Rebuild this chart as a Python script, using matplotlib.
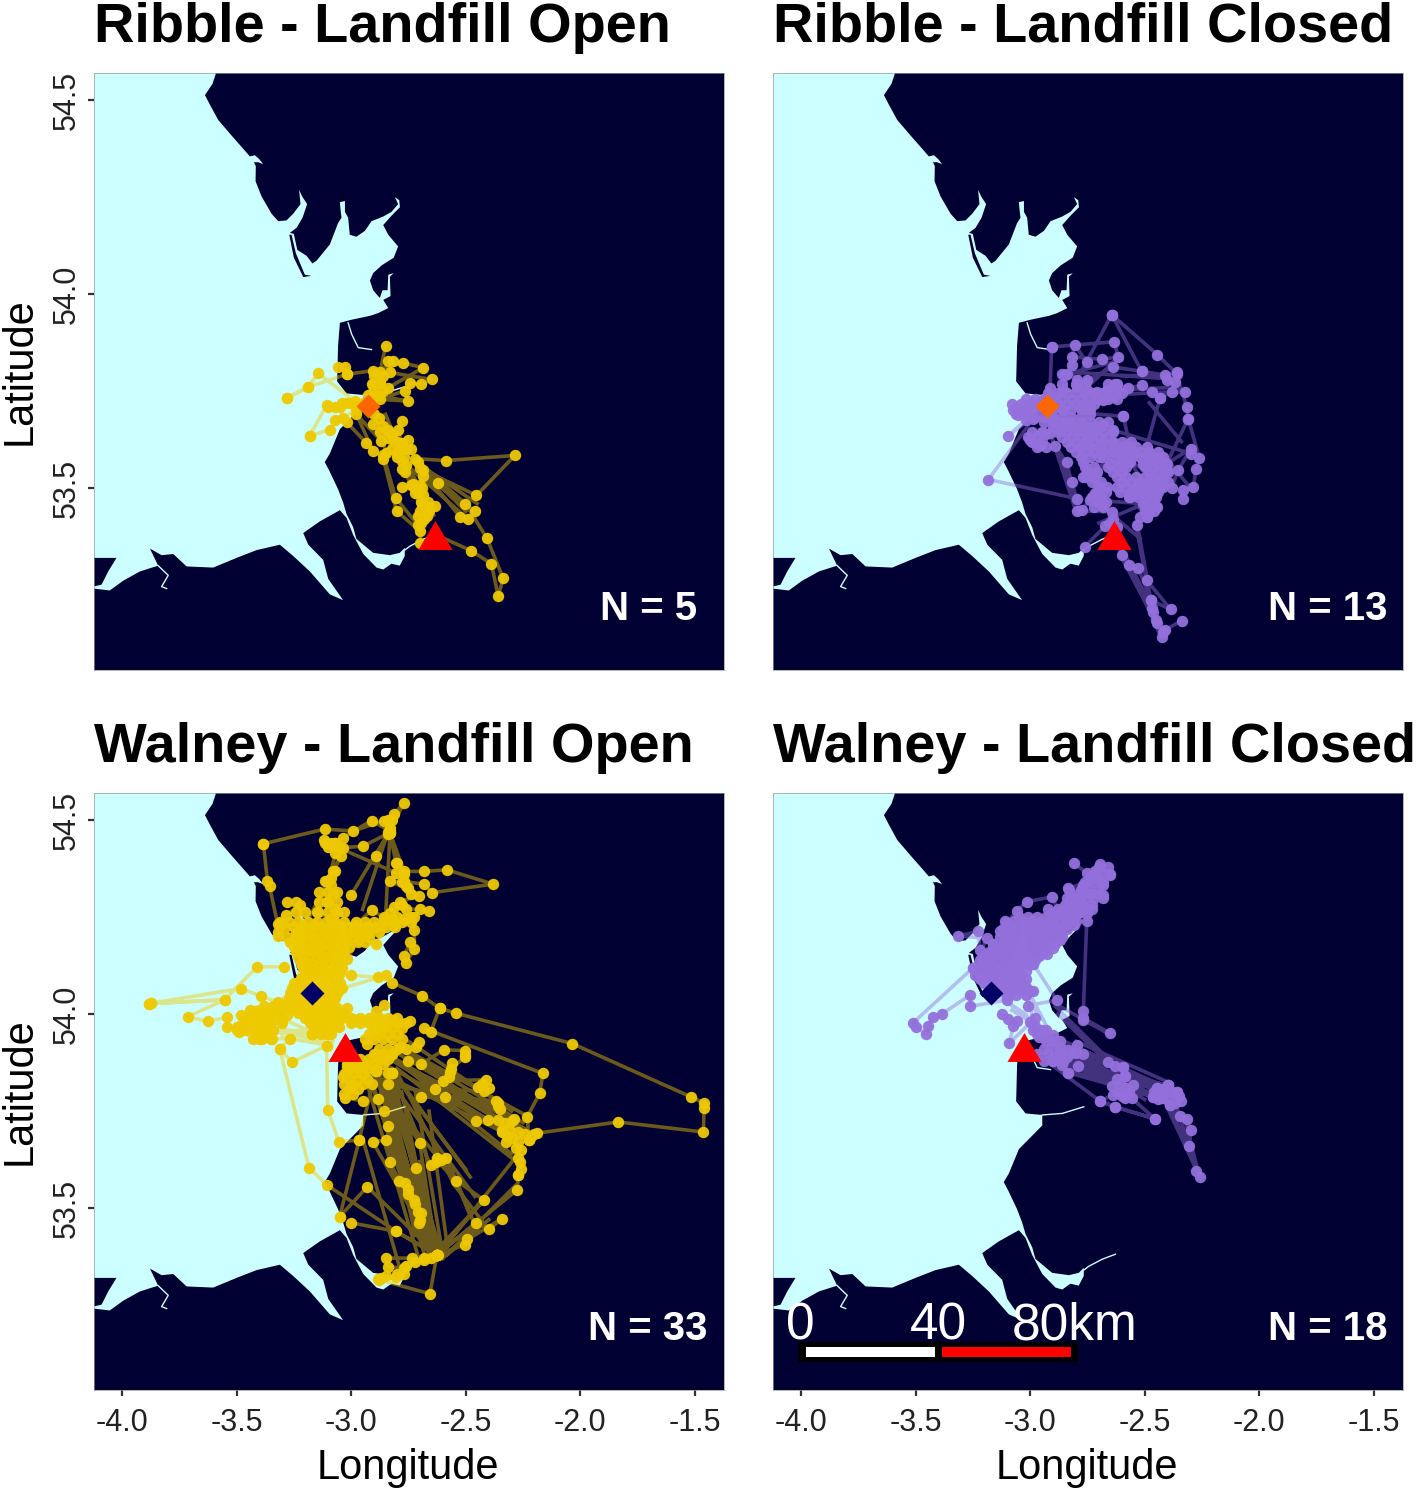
import matplotlib
matplotlib.use("Agg")
import matplotlib.pyplot as plt
from matplotlib.patches import Rectangle

plt.rcParams['font.family'] = ['Liberation Sans', 'DejaVu Sans']
plt.rcParams['axes.unicode_minus'] = False

n = float('nan')

# coastline, land is on the east side
coast_lon = [-3.585, -3.590, -3.605, -3.638, -3.616, -3.580, -3.522, -3.464, -3.442, -3.420, -3.401, -3.384, -3.406, -3.424,
             -3.416, -3.417, -3.391, -3.347, -3.318, -3.282, -3.253, -3.221, -3.227, -3.214, -3.192, -3.212, -3.238, -3.267,
             -3.250, -3.235, -3.195, -3.169, -3.151, -3.093, -3.057, -3.042, -3.046, -3.049, -3.027, -3.027, -3.013, -3.006,
             -2.977, -2.940, -2.911, -2.860, -2.824, -2.795, -2.809, -2.790, -2.787, -2.824, -2.860, -2.838, -2.795, -2.814,
             -2.867, -2.904, -2.918, -2.904, -2.875, -2.863, -2.841, -2.838, -2.814, -2.831, -2.828, -2.860, -2.838, -2.882,
             -2.918, -2.998, -3.049, -3.057, -3.061, -3.020, -2.947, -2.947, -2.977, -3.049, -3.093, -3.115, -3.093, -3.057,
             -3.035, -3.020, -2.991, -2.977, -2.904, -2.831, -2.788, -2.766, -2.766, -2.788, -2.824, -2.860, -2.889, -2.947,
             -2.991, -3.020, -3.049, -3.137, -3.209, -3.187, -3.122, -3.100, -3.035, -3.093, -3.180, -3.253, -3.311, -3.413,
             -3.500, -3.602, -3.718, -3.776, -3.827, -3.878, -3.842, -3.922, -3.995, -4.053, -4.125, -4.200, -4.200, -1.300,
             -1.300]
coast_lat = [54.600, 54.569, 54.542, 54.513, 54.488, 54.449, 54.409, 54.370, 54.355, 54.358, 54.348, 54.335, 54.340, 54.340,
             54.330, 54.291, 54.252, 54.207, 54.188, 54.190, 54.207, 54.232, 54.269, 54.252, 54.232, 54.197, 54.171, 54.158,
             54.155, 54.114, 54.099, 54.079, 54.086, 54.128, 54.183, 54.197, 54.217, 54.237, 54.240, 54.212, 54.197, 54.153,
             54.148, 54.163, 54.188, 54.200, 54.212, 54.232, 54.250, 54.242, 54.224, 54.202, 54.178, 54.153, 54.123, 54.094,
             54.074, 54.054, 54.035, 54.010, 53.990, 54.010, 54.010, 54.050, 54.054, 54.045, 53.995, 53.985, 53.964, 53.951,
             53.944, 53.934, 53.926, 53.867, 53.775, 53.744, 53.740, 53.713, 53.695, 53.652, 53.589, 53.567, 53.542, 53.497,
             53.463, 53.433, 53.399, 53.369, 53.333, 53.327, 53.333, 53.346, 53.325, 53.300, 53.305, 53.290, 53.295, 53.330,
             53.379, 53.423, 53.443, 53.414, 53.384, 53.354, 53.315, 53.266, 53.211, 53.226, 53.285, 53.325, 53.354, 53.340,
             53.320, 53.295, 53.298, 53.330, 53.327, 53.344, 53.300, 53.285, 53.261, 53.236, 53.241, 53.241, 53.000, 53.000,
             54.600]
anglesey_lon = [-4.200, -4.125, -4.024, -4.060, -4.089, -4.125, -4.200]
anglesey_lat = [53.320, 53.320, 53.320, 53.285, 53.251, 53.246, 53.246]
walney_lon = [-3.270, -3.260, -3.241, -3.202, -3.173, -3.209, -3.250]
walney_lat = [54.153, 54.153, 54.105, 54.050, 54.047, 54.044, 54.094]
river1_lon = [-3.842, -3.798, -3.827, -3.805]
river1_lat = [53.300, 53.275, 53.246, 53.241]
river2_lon = [-3.013, -2.998, -2.969, -2.911]
river2_lat = [53.926, 53.897, 53.862, 53.857]
river3_lon = [-2.947, -2.860, -2.766]
river3_lat = [53.740, 53.744, 53.761]
river4_lon = [-2.766, -2.744, -2.686, -2.628]
river4_lat = [53.340, 53.350, 53.368, 53.381]

ribble_open_lon = [-3.282, -3.187, -3.144, -2.984, n, -3.282, -3.187, -3.020, n, -3.180, -3.107, -3.071, -3.020, -2.926, n,
                   -3.180, -3.093, -3.071, -3.035, -2.977, n, -3.057, -3.027, -3.020, -2.904, -2.773, -2.686, -2.838, n,
                   -2.849, -2.875, -2.911, -2.926, n, -2.838, -2.817, -2.831, -2.649, -2.693, -2.744, -2.766, -2.875, -2.751,
                   -2.889, -2.904, -2.875, n, -3.020, -2.933, -2.904, -2.977, -2.868, -2.904, -2.875, -2.846, -2.817, -2.780,
                   -2.795, -2.780, -2.751, -2.802, -2.780, -2.766, -2.722, -2.587, -2.286, -2.453, -2.686, -2.620, -2.737,
                   -2.780, -2.700, -2.686, -2.722, -2.664, -2.693, -2.635, -2.708, -2.671, -2.693, -2.700, n, -2.860, -2.806,
                   -2.708, n, -2.860, -2.802, -2.700, n, -2.708, -2.501, -2.407, -2.337, -2.358, -2.388, -2.478, -2.628, n,
                   -2.700, -2.523, -2.489, -2.460, -2.686]
ribble_open_lat = [53.731, 53.761, 53.796, 53.724, n, 53.731, 53.761, 53.793, n, 53.635, 53.714, 53.709, 53.719, 53.711, n,
                   53.635, 53.650, 53.675, 53.680, 53.704, n, 53.813, 53.813, 53.793, 53.803, 53.823, 53.810, 53.759, n,
                   53.867, 53.798, 53.768, 53.739, n, 53.828, 53.828, 53.798, 53.780, 53.768, 53.770, 53.751, 53.729, 53.724,
                   53.739, 53.768, 53.773, n, 53.670, 53.616, 53.596, 53.690, 53.621, 53.665, 53.645, 53.591, 53.625, 53.672,
                   53.650, 53.616, 53.625, 53.591, 53.571, 53.542, 53.576, 53.571, 53.584, 53.481, 53.547, 53.514, 53.507,
                   53.502, 53.507, 53.483, 53.488, 53.463, 53.463, 53.453, 53.428, 53.428, 53.409, 53.359, n, 53.586, 53.475,
                   53.404, n, 53.576, 53.441, 53.389, n, 53.566, 53.460, 53.370, 53.268, 53.221, 53.305, 53.339, 53.379, n,
                   53.552, 53.425, 53.421, 53.441, 53.532]
ribble_open_more_lon = [-2.90, -2.88, -2.90, -2.86, -2.86, -2.88, -2.91, -2.90, -2.88, -2.86, -2.84, -2.82, -2.80, -2.82, -2.79,
                        -2.77, -2.76, -2.78, -2.73, -2.71, -2.69, -2.67, -2.70, -2.68, -2.66, -2.72, -2.69, -3.10, -3.05, -3.00,
                        -3.04, -2.95, -2.80, -2.78, -2.84, -2.76, -2.74]
ribble_open_more_lat = [53.79, 53.77, 53.75, 53.75, 53.79, 53.74, 53.72, 53.69, 53.68, 53.66, 53.65, 53.64, 53.62, 53.60, 53.60,
                        53.58, 53.56, 53.55, 53.51, 53.49, 53.46, 53.45, 53.44, 53.42, 53.44, 53.50, 53.50, 53.71, 53.71, 53.72,
                        53.72, 53.72, 53.58, 53.60, 53.63, 53.60, 53.60]
ribble_open_line_lon = [-2.87, -2.68, n, -2.85, -2.66, n, -2.84, -2.64, n, -2.72, -2.50, n, -2.74, -2.49, n, -2.70, -2.45]
ribble_open_line_lat = [53.68, 53.43, n, 53.69, 53.42, n, 53.66, 53.43, n, 53.57, 53.44, n, 53.55, 53.42, n, 53.56, 53.46]

ribble_closed_lon = [-2.986, -3.095, -3.020, n, -2.986, -3.182, -2.797, -2.819, -2.841, -2.892, -2.913, n, -2.906, -2.913, n,
                     -2.906, -2.634, -2.615, -2.685, -2.819, -2.804, -2.753, n, -2.644, -2.797, n, -2.644, -2.445, -2.361, -2.317,
                     -2.310, -2.262, -2.276, -2.288, -2.332, -2.335, n, -2.644, -2.513, -2.637, -2.753, n, -2.513, -2.412, -2.358,
                     -2.368, -2.404, -2.324, -2.383, -2.434, -2.470, -2.513, -2.623, n, -2.434, -2.492, n, -2.593, -2.739, n,
                     -2.593, -2.564, n, -2.310, -2.404, -2.298, -2.354, -2.383, n, -2.637, -2.298, n, -2.532, -2.473, -2.387,
                     -2.492, n, -2.339, -2.412, -2.426, -2.448, -2.463, -2.473, -2.528, -2.567, -2.601, -2.652, n, -2.761, -2.673,
                     -2.644, -2.797, -2.775, -2.717, n,
                     -3.073, -3.030, -2.986, -2.943, -2.899, -2.855, -2.848, -2.819, -2.797, -2.753, -2.710, -2.666, -2.623, -2.572,
                     -2.637, -2.681, -2.739, -2.783, -2.855, -3.052, -2.899, -2.826, -2.870, -3.001, -2.957, -2.943, n,
                     -2.797, -2.753, -2.710, -2.681, -2.783, -2.739, -2.681, -2.637, -2.593, -2.550, -2.506, -2.448, -2.404, -2.463,
                     -2.492, -2.434, -2.535, -2.608, -2.666, -2.739, -2.768, -2.652, -2.593, -2.681, -2.710, -2.681, -2.739, -2.506,
                     -2.477, -2.448, -2.492, -2.564, -2.528, -2.419, -2.564, -2.463]
ribble_closed_lat = [53.684, 53.635, 53.675, n, 53.679, 53.522, 53.473, 53.516, 53.566, 53.609, 53.641, n, 53.864, 53.757, n,
                     53.864, 53.877, 53.838, 53.832, 53.838, 53.868, 53.825, n, 53.947, 53.778, n, 53.947, 53.844, 53.795, 53.709,
                     53.679, 53.578, 53.550, 53.503, 53.495, 53.473, n, 53.947, 53.801, 53.812, 53.778, n, 53.801, 53.791, 53.800,
                     53.774, 53.778, 53.748, 53.748, 53.731, 53.748, 53.765, 53.752, n, 53.731, 53.606, n, 53.685, 53.692, n,
                     53.685, 53.606, n, 53.679, 53.563, 53.602, 53.546, 53.501, n, 53.649, 53.589, n, 53.406, 53.211, 53.187,
                     53.263, n, 53.158, 53.134, 53.115, 53.153, 53.181, 53.211, 53.293, 53.301, 53.327, 53.409, n, 53.349, 53.402,
                     53.439, 53.441, 53.443, 53.486, n,
                     53.701, 53.709, 53.718, 53.727, 53.735, 53.752, 53.791, 53.817, 53.761, 53.752, 53.748, 53.752, 53.769, 53.757,
                     53.735, 53.727, 53.718, 53.709, 53.701, 53.688, 53.675, 53.666, 53.649, 53.623, 53.611, 53.641, n,
                     53.649, 53.632, 53.649, 53.662, 53.606, 53.606, 53.615, 53.615, 53.606, 53.589, 53.563, 53.572, 53.546, 53.529,
                     53.503, 53.503, 53.486, 53.490, 53.503, 53.538, 53.529, 53.563, 53.559, 53.581, 53.477, 53.460, 53.469, 53.460,
                     53.443, 53.452, 53.426, 53.477, 53.507, 53.520, 53.568, 53.477]
ribble_closed_more_lon = [-2.98, -2.94, -2.90, -2.86, -2.82, -2.78, -2.90, -2.86, -2.82, -2.78, -2.74, -2.70,
                          -3.01, -2.97, -2.93, -2.86, -2.82, -2.78, -2.74, -2.70, -2.66,
                          -2.97, -2.93, -2.82, -2.78, -2.74, -2.70, -2.66, -2.62, -2.58, -2.54,
                          -2.78, -2.74, -2.70, -2.64, -2.60, -2.56, -2.52, -2.48, -2.44, -2.42,
                          -2.76, -2.72, -2.66, -2.62, -2.58, -2.50, -2.46, -2.42,
                          -2.76, -2.72, -2.62, -2.58, -2.54, -2.50, -2.46, -2.42,
                          -2.70, -2.62, -2.58, -2.54, -2.50, -2.46, -2.42,
                          -2.73, -2.69, -2.57, -2.53, -2.49, -2.45, -2.72, -2.68, -2.49, -2.45, -2.49, -2.52,
                          -3.08, -3.04, -3.00, -2.96, -2.92, -2.88, -2.84, -2.80, -2.76, -2.72,
                          -2.92, -2.88, -2.84, -2.80, -2.76, -2.72, -2.68, -2.64, -2.60,
                          -2.86, -2.80, -2.76, -2.66, -2.63, -2.86, -2.84, -3.06, -3.03, -2.64, -2.62, -2.47, -2.45, -2.42,
                          -3.02, -2.98, -2.94, -2.90, -2.86, -2.82, -2.78, -2.74, -2.70, -2.66, -2.62,
                          -3.06, -3.02, -2.98, -2.94, -2.90, -2.86, -2.82, -2.78, -2.74,
                          -2.94, -2.90, -2.86, -2.82, -2.78, -2.74, -2.70, -2.66,
                          -2.99, -2.95, -2.88, -2.84, -2.80, -2.76, -2.72, -2.68, -2.64,
                          -2.99, -2.95, -2.84, -2.80, -2.76, -2.72, -2.68, -2.64, -2.60, -2.56,
                          -2.80, -2.76, -2.72, -2.68, -2.64, -2.60, -2.56, -2.52, -2.48, -2.44,
                          -2.77, -2.61, -2.57, -2.49, -2.45, -2.41,
                          -2.75, -2.71, -2.64, -2.60, -2.48, -2.44, -2.40,
                          -2.73, -2.69, -2.60, -2.56, -2.52, -2.48, -2.44, -2.40,
                          -2.71, -2.67, -2.56, -2.52, -2.48, -2.44, -2.71, -2.67, -2.50, -2.46, -2.50, -2.46]
ribble_closed_more_lat = [53.684, 53.684, 53.684, 53.684, 53.684, 53.684, 53.658, 53.658, 53.658, 53.658, 53.658, 53.658,
                          53.632, 53.632, 53.640, 53.632, 53.632, 53.632, 53.632, 53.632, 53.632,
                          53.606, 53.606, 53.606, 53.606, 53.606, 53.606, 53.606, 53.606, 53.606, 53.606,
                          53.580, 53.580, 53.580, 53.580, 53.580, 53.580, 53.580, 53.580, 53.580, 53.580,
                          53.555, 53.555, 53.555, 53.555, 53.555, 53.555, 53.555, 53.555,
                          53.529, 53.529, 53.529, 53.529, 53.529, 53.529, 53.529, 53.529,
                          53.503, 53.503, 53.503, 53.503, 53.503, 53.503, 53.503,
                          53.477, 53.477, 53.477, 53.477, 53.477, 53.477, 53.452, 53.452, 53.452, 53.452, 53.426, 53.426,
                          53.718, 53.718, 53.718, 53.718, 53.718, 53.718, 53.718, 53.718, 53.718, 53.718,
                          53.744, 53.744, 53.744, 53.744, 53.744, 53.744, 53.744, 53.744, 53.744,
                          53.769, 53.769, 53.769, 53.769, 53.769, 53.795, 53.795, 53.692, 53.692, 53.420, 53.400, 53.19, 53.16, 53.13,
                          53.730, 53.730, 53.730, 53.730, 53.730, 53.730, 53.730, 53.730, 53.730, 53.730, 53.730,
                          53.705, 53.705, 53.705, 53.705, 53.705, 53.705, 53.705, 53.705, 53.705,
                          53.671, 53.671, 53.671, 53.671, 53.671, 53.671, 53.671, 53.671,
                          53.645, 53.645, 53.645, 53.645, 53.645, 53.645, 53.645, 53.645, 53.645,
                          53.620, 53.620, 53.620, 53.620, 53.620, 53.620, 53.620, 53.620, 53.620, 53.620,
                          53.593, 53.593, 53.593, 53.593, 53.593, 53.593, 53.593, 53.593, 53.593, 53.593,
                          53.568, 53.568, 53.568, 53.568, 53.568, 53.568,
                          53.542, 53.542, 53.542, 53.542, 53.542, 53.542, 53.542,
                          53.516, 53.516, 53.516, 53.516, 53.516, 53.516, 53.516, 53.516,
                          53.490, 53.490, 53.490, 53.490, 53.490, 53.490, 53.465, 53.465, 53.465, 53.465, 53.440, 53.440]
ribble_closed_line_lon = [-2.84, -2.36, n, -2.80, -2.60, n, -2.75, -2.61, n, -2.73, -2.36, n, -2.60, -2.41, n, -2.65, -2.32, n,
                          -2.60, -2.43, n, -2.59, -2.44, n, -2.62, -2.46, n, -2.54, -2.48, n, -2.90, -2.80, n, -2.88, -2.78, n,
                          -2.66, -2.52, n, -2.70, -2.50, n, -2.44, -2.30, n, -2.48, -2.34]
ribble_closed_line_lat = [53.80, 53.78, n, 53.80, 53.83, n, 53.76, 53.84, n, 53.75, 53.76, n, 53.79, 53.79, n, 53.74, 53.75, n,
                          53.32, 53.13, n, 53.33, 53.13, n, 53.37, 53.18, n, 53.41, 53.22, n, 53.62, 53.44, n, 53.60, 53.44, n,
                          53.44, 53.37, n, 53.41, 53.46, n, 53.60, 53.50, n, 53.72, 53.62]

walney_open_lon = [-3.383, -3.116, -2.991, -2.858, -2.813, -2.769, -2.831, -2.911, -3.036, -3.071, -3.116, -3.071, -3.045, -3.107, n,
                   -3.383, -3.365, -3.356, -3.321, n, -3.036, -2.947, -2.831, -2.893, -2.840, -3.000, n,
                   -3.054, -2.804, -2.804, -2.831, -2.769, -2.680, -2.582, -2.380, -2.648, -2.683, -2.769, -2.831, -2.751, -2.706,
                   -2.786, -2.813, -2.662, -2.701, -2.724, -2.724, -2.724, -2.760, -2.769, -2.742, n,
                   -2.858, -2.911, -2.982, -2.929, -2.893, -2.822, -2.769, -2.965, -3.018, n,
                   -3.071, -3.089, -3.116, -3.107, -3.071, -3.054, -3.089, -3.143, -3.160, -3.089, -3.143, -3.196, -3.232, -3.223,
                   -3.285, -3.312, -3.321, -3.267, -3.036, -3.071, -3.125, -3.196, -3.054, -3.089, -3.232, -3.214, -3.143, -3.071,
                   -3.036, -3.125, -3.178, -3.107, -3.071, -3.143, -3.169, -3.250, -3.267, -3.214, -3.107, -3.071, -3.214, -3.054,
                   -3.107, -3.054, -3.107, -3.160, -3.196, n,
                   -3.873, -3.882, -3.552, -3.410, -3.294, n, -3.873, -3.481, -3.392, -3.317, -3.267, n, -3.882, -3.552, -3.713, -3.624,
                   -3.543, -3.543, -3.490, -3.401, -3.419, -3.374, -3.428, -3.321, -3.303, -3.347, -3.267, -3.312, -3.258, -3.107, n,
                   -3.463, -3.499, -3.374, -3.169, n, -3.000, -2.884, -2.849, -3.071, n,
                   -3.312, -3.184, -3.107, -2.804, -2.626, n, -3.107, -3.102, -3.054, -2.965, -3.050, n,
                   -2.822, -2.690, -2.614, -2.541, -2.035, -1.515, -1.460, -1.460, -1.463, -1.834, -2.190, -2.225, -2.270, -2.291,
                   -2.359, -2.404, -2.457, n, -2.614, -2.653, -2.680, -2.163, -2.177, -2.231, -2.225, n,
                   -2.858, -2.893, -2.813, -2.858, -2.965, -3.036, -2.742, -2.929, -2.893, -2.786, -2.822, -2.858, -2.706, -2.715,
                   -2.751, -2.697, -2.594, -2.505, -2.505, -2.564, -2.573, -2.600, -2.412, -2.448, -2.421, -2.635, -2.697, -2.591,
                   -2.368, -2.359, -2.840, -2.822, -2.884, -2.947, -3.027, -3.000, -3.036, -3.018, -2.965, -2.893, n,
                   -2.893, -2.626, -2.858, -2.840, -2.626, -2.906, -2.849, -2.626, -2.701, -2.893, -2.965, n,
                   -2.822, -2.831, -2.626, -2.719, -2.822, -2.653, -2.626, -2.585, -2.541, -2.421, -2.626, -2.893, -2.341, -2.323,
                   -2.279, -2.261, -2.270, -2.275, -2.626, -2.929, -3.050, n, -2.840, -2.765, -2.754, -2.724, -2.697, -2.706, -2.626,
                   -2.457, -2.398, -2.341, -2.493, -2.502, -2.626, -2.804, -3.000, n, -2.626, -2.680, -2.733, -2.849, -2.840, -2.769,
                   -2.804, -2.884, -2.656, -2.626]
walney_open_lat = [54.439, 54.477, 54.472, 54.499, 54.516, 54.545, 54.472, 54.499, 54.455, 54.442, 54.442, 54.416, 54.407, 54.342, n,
                   54.439, 54.342, 54.329, 54.233, n, 54.429, 54.433, 54.468, 54.407, 54.464, 54.307, n,
                   54.429, 54.364, 54.390, 54.468, 54.368, 54.368, 54.372, 54.335, 54.313, 54.335, 54.342, 54.342, 54.324, 54.305,
                   54.290, 54.276, 54.266, 54.270, 54.250, 54.216, 54.168, 54.133, 54.150, 54.185, n,
                   54.250, 54.268, 54.229, 54.211, 54.181, 54.246, 54.246, 54.194, 54.141, n,
                   54.368, 54.333, 54.342, 54.290, 54.272, 54.229, 54.246, 54.263, 54.229, 54.211, 54.194, 54.168, 54.194, 54.281,
                   54.255, 54.229, 54.202, 54.185, 54.202, 54.159, 54.141, 54.133, 54.115, 54.081, 54.081, 54.150, 54.168, 54.194,
                   54.159, 54.107, 54.020, 54.037, 54.011, 53.976, 53.950, 54.046, 54.020, 54.002, 53.985, 54.054, 54.124, 54.063,
                   53.950, 53.967, 54.072, 54.100, 54.060, n,
                   54.028, 54.027, 54.037, 54.122, 54.122, n, 54.028, 54.066, 54.046, 54.030, 54.054, n, 54.027, 54.037, 53.993, 53.981,
                   53.992, 53.967, 53.954, 53.937, 54.007, 54.002, 53.976, 53.998, 53.976, 53.937, 53.937, 53.911, 53.876, 53.919, n,
                   53.976, 53.967, 53.967, 53.950, n, 54.100, 54.095, 54.100, 54.060, n,
                   53.911, 53.604, 53.560, 53.440, 53.379, n, 53.919, 53.754, 53.671, 53.675, 53.478, n,
                   54.081, 54.047, 54.015, 54.002, 53.924, 53.786, 53.771, 53.758, 53.696, 53.722, 53.693, 53.676, 53.697, 53.730,
                   53.728, 53.728, 53.725, n, 54.015, 53.954, 53.963, 53.847, 53.796, 53.736, 53.676, n,
                   54.024, 54.007, 53.985, 53.967, 53.985, 53.998, 53.983, 53.924, 53.950, 53.915, 53.898, 53.889, 53.928, 53.915,
                   53.880, 53.871, 53.908, 53.906, 53.889, 53.858, 53.837, 53.828, 53.831, 53.811, 53.802, 53.806, 53.786, 53.787,
                   53.776, 53.763, 53.819, 53.847, 53.780, 53.776, 53.784, 53.811, 53.837, 53.863, 53.863, 53.898, n,
                   53.854, 53.379, 53.750, 53.712, 53.379, 53.671, 53.675, 53.379, 53.667, 53.854, 53.675, n,
                   53.847, 53.619, 53.379, 53.603, 53.847, 53.610, 53.628, 53.630, 53.571, 53.521, 53.379, 53.854, 53.697, 53.671,
                   53.654, 53.619, 53.584, 53.547, 53.379, 53.555, 53.478, n, 53.847, 53.565, 53.536, 53.521, 53.488, 53.462, 53.379,
                   53.462, 53.445, 53.473, 53.419, 53.406, 53.379, 53.440, 53.462, n, 53.379, 53.366, 53.371, 53.371, 53.349, 53.345,
                   53.323, 53.316, 53.279, 53.379]
walney_open_more_lon = [-3.14, -3.10, -3.06, -3.28, -3.24, -3.14, -3.10, -3.06, -3.24, -3.20, -3.15, -3.10, -3.06, -3.03,
                        -3.31, -3.27, -3.23, -3.19, -3.15, -3.11, -3.07, -3.03, -2.98, -2.94, -2.90, -2.86, -2.82, -2.78, -2.74,
                        -3.32, -3.24, -3.20, -3.16, -3.12, -3.08, -3.04, -3.00, -2.96, -2.92, -2.88,
                        -3.26, -3.22, -3.18, -3.14, -3.10, -3.06, -3.02, -2.97, -2.94,
                        -3.24, -3.20, -3.16, -3.12, -3.08, -3.04, -3.22, -3.18, -3.14, -3.10, -3.06,
                        -3.20, -3.16, -3.12, -3.08, -3.05, -3.25, -3.20, -3.12, -3.08, -3.05,
                        -3.26, -3.22, -3.18, -3.14, -3.10, -3.06, -3.28, -3.24, -3.20, -3.16, -3.12, -3.08,
                        -3.23, -3.19, -3.15, -3.11, -3.07, -3.03,
                        -3.18, -3.14, -3.10, -3.06, -3.00, -2.96, -2.92, -2.88, -2.84, -2.80, -2.76,
                        -3.17, -3.13, -3.09, -2.92, -2.88, -2.84, -2.80,
                        -2.90, -2.86, -2.82, -3.02, -2.98, -2.94, -2.90, -2.86, -3.03, -2.99, -2.95, -3.03, -2.99, -2.95, -2.91, -3.03, -2.99,
                        -3.44, -3.40, -3.36, -3.32, -3.46, -3.42, -3.38, -3.34, -3.30, -3.50, -3.46, -3.42, -3.38, -3.34, -3.43, -3.39, -3.35,
                        -2.505, -2.56, -2.57, -2.43, -2.40, -2.36, -2.35, -2.33, -2.30, -2.34, -2.31, -2.32, -2.30, -2.27, -2.26, -2.27, -2.26,
                        -2.27, -2.24, -2.20, -2.22, -2.63, -2.61,
                        -2.79, -2.75, -2.72, -2.71, -2.70, -2.62, -2.65, -2.68, -2.72, -2.76, -2.80, -2.77, -2.85, -2.88, -2.87,
                        -3.12, -3.09, -3.07, -3.10, -2.84, -2.82, -2.83, -2.84, -2.80, -2.77, -2.78, -2.76, -2.74, -3.08, -3.09, -3.08,
                        -2.78, -2.76, -2.74, -2.80, -2.83, -2.85,
                        -3.29, -3.25, -3.21, -3.17, -3.13, -3.09, -3.05, -3.01, -2.97, -2.93, -2.89, -2.85, -2.81,
                        -3.28, -3.24, -3.20, -3.16, -3.12, -3.08, -3.04, -3.00, -2.96, -2.92,
                        -3.25, -3.21, -3.17, -3.13, -3.09, -3.05, -3.01,
                        -3.23, -3.19, -3.15, -3.11, -3.07, -3.03,
                        -3.20, -3.16, -3.12, -3.08, -3.04,
                        -3.22, -3.18, -3.14, -3.10, -3.06,
                        -3.26, -3.22, -3.16, -3.12, -3.08, -3.04,
                        -3.27, -3.23, -3.19, -3.15, -3.11, -3.07,
                        -3.26, -3.22, -3.18, -3.14, -3.10, -3.06, -3.02,
                        -3.20, -3.16, -3.12, -3.08, -3.04, -3.00, -2.96, -2.92, -2.88, -2.84, -2.80,
                        -3.16, -3.12, -3.08, -2.90, -2.86, -2.82, -2.78,
                        -2.94, -2.90, -2.86, -2.82, -2.78,
                        -2.88, -2.84, -2.80, -2.76,
                        -3.00, -2.96, -2.92, -2.88, -2.84,
                        -3.01, -2.97, -2.93, -2.89, -3.01, -2.97, -2.93, -3.01, -2.97,
                        -3.48, -3.44, -3.40, -3.36, -3.32, -3.28, -3.48, -3.44, -3.40, -3.36, -3.41, -3.37, -3.38, -3.34, -3.30]
walney_open_more_lat = [54.316, 54.316, 54.316, 54.29, 54.29, 54.29, 54.29, 54.29, 54.263, 54.263, 54.263, 54.263, 54.263, 54.263,
                        54.237, 54.237, 54.237, 54.237, 54.237, 54.237, 54.237, 54.237, 54.237, 54.237, 54.237, 54.237, 54.237, 54.237, 54.237,
                        54.211, 54.211, 54.211, 54.211, 54.211, 54.211, 54.211, 54.211, 54.211, 54.211, 54.211,
                        54.185, 54.185, 54.185, 54.185, 54.185, 54.185, 54.185, 54.185, 54.185,
                        54.159, 54.159, 54.159, 54.159, 54.159, 54.159, 54.133, 54.133, 54.133, 54.133, 54.133,
                        54.107, 54.107, 54.107, 54.107, 54.107, 54.080, 54.080, 54.080, 54.080, 54.080,
                        54.054, 54.054, 54.054, 54.054, 54.054, 54.054, 54.028, 54.028, 54.028, 54.028, 54.028, 54.028,
                        54.002, 54.002, 54.002, 54.002, 54.002, 54.002,
                        53.976, 53.976, 53.976, 53.976, 53.976, 53.976, 53.976, 53.976, 53.976, 53.976, 53.976,
                        53.950, 53.950, 53.950, 53.950, 53.950, 53.950, 53.950,
                        53.898, 53.898, 53.898, 53.872, 53.872, 53.872, 53.872, 53.872, 53.845, 53.845, 53.845, 53.819, 53.819, 53.819, 53.819, 53.793, 53.793,
                        54.01, 54.01, 54.01, 54.01, 53.985, 53.985, 53.985, 53.985, 53.985, 53.96, 53.96, 53.96, 53.96, 53.96, 53.935, 53.935, 53.935,
                        53.895, 53.875, 53.85, 53.82, 53.81, 53.77, 53.755, 53.72, 53.725, 53.70, 53.705, 53.685, 53.68, 53.67, 53.65, 53.63, 53.60,
                        53.585, 53.69, 53.69, 53.68, 53.62, 53.625,
                        53.57, 53.55, 53.51, 53.49, 53.47, 53.38, 53.37, 53.37, 53.36, 53.35, 53.33, 53.33, 53.325, 53.315, 53.32,
                        54.45, 54.44, 54.44, 54.43, 54.50, 54.50, 54.48, 54.47, 54.39, 54.36, 54.34, 54.33, 54.31, 54.37, 54.35, 54.31,
                        54.28, 54.27, 54.25, 54.25, 54.26, 54.24,
                        54.224, 54.224, 54.224, 54.224, 54.224, 54.224, 54.224, 54.224, 54.224, 54.224, 54.224, 54.224, 54.224,
                        54.198, 54.198, 54.198, 54.198, 54.198, 54.198, 54.198, 54.198, 54.198, 54.198,
                        54.172, 54.172, 54.172, 54.172, 54.172, 54.172, 54.172,
                        54.146, 54.146, 54.146, 54.146, 54.146, 54.146,
                        54.120, 54.120, 54.120, 54.120, 54.120,
                        54.094, 54.094, 54.094, 54.094, 54.094,
                        54.067, 54.067, 54.067, 54.067, 54.067, 54.067,
                        54.041, 54.041, 54.041, 54.041, 54.041, 54.041,
                        54.015, 54.015, 54.015, 54.015, 54.015, 54.015, 54.015,
                        53.989, 53.989, 53.989, 53.989, 53.989, 53.989, 53.989, 53.989, 53.989, 53.989, 53.989,
                        53.963, 53.963, 53.963, 53.963, 53.963, 53.963, 53.963,
                        53.937, 53.937, 53.937, 53.937, 53.937,
                        53.911, 53.911, 53.911, 53.911,
                        53.885, 53.885, 53.885, 53.885, 53.885,
                        53.859, 53.859, 53.859, 53.859, 53.832, 53.832, 53.832, 53.806, 53.806,
                        53.997, 53.997, 53.997, 53.997, 53.997, 53.997, 53.972, 53.972, 53.972, 53.972, 53.947, 53.947, 54.02, 54.02, 54.02]
walney_open_line_lon = [-2.88, -2.63, n, -2.86, -2.65, n, -2.84, -2.62, n, -2.83, -2.61, n, -2.82, -2.66, n, -2.80, -2.55, -2.42, n,
                        -2.88, -2.30, n, -2.85, -2.28, n, -2.82, -2.27, n, -2.83, -2.20, n, -2.80, -2.24, n, -2.78, -2.25, n,
                        -2.76, -2.33, n, -2.80, -2.35, n, -2.78, -2.30, n, -2.80, -2.28, n, -2.82, -2.40, n, -2.75, -2.30, n,
                        -2.86, -2.50, n, -2.84, -2.48, n, -2.87, -2.46, n, -2.64, -2.54, -2.47, n, -2.63, -2.55, -2.48, n,
                        -2.27, -2.62, n, -2.28, -2.60, n, -2.40, -2.58, n, -2.42, -2.63, n, -2.70, -2.63, n, -2.73, -2.64, n,
                        -2.90, -2.66, n, -2.95, -2.79, n, -3.05, -3.20, n, -3.07, -3.12, n, -2.85, -2.95, n, -2.83, -2.85, n,
                        -2.89, -2.70, n, -2.87, -2.72, n, -2.85, -2.68, n, -2.84, -2.64, n, -3.20, -3.33, n, -3.16, -3.30, n,
                        -3.12, -3.36, n, -3.10, -3.30, n, -3.08, -3.27, n,
                        -2.92, -2.68, n, -2.94, -2.70, n, -2.86, -2.55, n, -2.78, -2.64, n, -2.72, -2.60, n, -2.66, -2.58, n, -2.75, -2.66]
walney_open_line_lat = [53.85, 53.38, n, 53.85, 53.38, n, 53.85, 53.38, n, 53.83, 53.39, n, 53.84, 53.42, n, 53.85, 53.56, 53.46, n,
                        53.90, 53.73, n, 53.90, 53.70, n, 53.88, 53.68, n, 53.91, 53.69, n, 53.92, 53.74, n, 53.91, 53.72, n,
                        53.90, 53.72, n, 53.88, 53.70, n, 53.87, 53.64, n, 53.86, 53.62, n, 53.86, 53.72, n, 53.93, 53.75, n,
                        53.88, 53.60, n, 53.87, 53.58, n, 53.86, 53.53, n, 53.63, 53.57, 53.47, n, 53.64, 53.58, 53.48, n,
                        53.64, 53.38, n, 53.56, 53.37, n, 53.47, 53.38, n, 53.52, 53.39, n, 53.62, 53.38, n, 53.60, 53.38, n,
                        53.80, 53.38, n, 53.68, 53.35, n, 54.40, 54.23, n, 54.41, 54.30, n, 54.45, 54.27, n, 54.47, 54.25, n,
                        53.84, 53.46, n, 53.83, 53.43, n, 53.82, 53.42, n, 53.82, 53.44, n, 53.96, 53.95, n, 53.95, 53.95, n,
                        53.93, 53.96, n, 53.92, 53.94, n, 53.93, 53.98, n,
                        53.85, 53.38, n, 53.84, 53.36, n, 53.80, 53.58, n, 53.80, 53.40, n, 53.80, 53.38, n, 53.75, 53.40, n, 53.70, 53.38]

walney_closed_lon = [-2.809, -2.753, -2.695, -2.717, -2.652, -2.739, -2.768, -2.681, -2.703, -2.833, -2.681, -2.783, -2.826, -2.732,
                     -2.783, -2.826, -2.870, -2.906, -3.015, -3.059, -3.102, -3.132, -3.088, -3.030, -2.972, -2.913, -2.899, -2.957,
                     -3.001, -3.030, -2.928, -2.986, -3.052, -3.117, -3.175, -3.219, -3.226, -3.313, -3.190, -3.248, -3.190, -3.117,
                     -3.081, -3.030, -3.146, -2.986, -3.190, -3.117, -3.059, -3.015, -3.059, -2.986, -2.943, -3.059, -3.161, -3.204,
                     -3.233, n,
                     -3.248, -3.510, -3.499, -3.454, -3.444, -3.422, -3.386, -3.262, -3.262, -3.102, n, -3.008, -2.884, -2.986, n,
                     -2.753, -2.768, -2.768, -2.652, -2.768, n, -3.124, -3.095, -3.059, -3.073, -3.091, -2.979, -2.986, -2.899, -2.899,
                     -2.870, -2.833, -2.797, -2.768, -2.855, -2.899, -2.833, -2.790, -2.659, -2.630, -2.593, -2.586, -2.623, -2.550,
                     -2.644, -2.615, -2.586, -2.637, -2.695, -2.630, -2.455, -2.557, -2.448, -2.397, -2.361, -2.463, -2.426, -2.390,
                     -2.346, -2.317, -2.298, -2.306, -2.276, -2.259, -2.390, n,
                     -2.935, -2.448, -2.899, -2.397, -2.855, -2.361, -2.833, -2.463, -2.972, -2.695, -2.630, -2.455, n,
                     -2.870, -2.593, -2.426, -2.870, -2.586, -2.397]
walney_closed_lat = [54.389, 54.364, 54.386, 54.368, 54.359, 54.350, 54.333, 54.333, 54.350, 54.324, 54.306, 54.297, 54.297, 54.271,
                     54.262, 54.271, 54.262, 54.302, 54.290, 54.266, 54.235, 54.213, 54.191, 54.182, 54.182, 54.191, 54.235, 54.226,
                     54.217, 54.209, 54.155, 54.129, 54.129, 54.155, 54.155, 54.164, 54.213, 54.202, 54.195, 54.120, 54.111, 54.102,
                     54.075, 54.075, 54.075, 54.059, 54.138, 54.182, 54.155, 54.155, 54.226, 54.200, 54.209, 54.191, 54.182, 54.138,
                     54.111, n,
                     54.120, 53.978, 53.966, 53.949, 53.969, 53.993, 54.000, 54.049, 54.020, 54.036, n, 54.022, 54.036, 54.129, n,
                     54.240, 54.007, 53.985, 53.951, 53.990, n, 54.000, 53.987, 53.982, 53.969, 53.925, 53.989, 53.960, 53.947, 53.916,
                     53.916, 53.907, 53.920, 53.898, 53.880, 53.880, 53.849, 53.867, 53.876, 53.867, 53.863, 53.840, 53.832, 53.818,
                     53.814, 53.796, 53.783, 53.792, 53.776, 53.761, 53.730, 53.783, 53.809, 53.816, 53.800, 53.787, 53.783, 53.765,
                     53.738, 53.730, 53.701, 53.659, 53.596, 53.581, 53.765, n,
                     53.950, 53.809, 53.880, 53.816, 53.880, 53.800, 53.849, 53.787, 53.898, 53.776, 53.761, 53.730, n,
                     53.930, 53.863, 53.783, 53.890, 53.840, 53.816]
walney_closed_more_lon = [-2.70, -2.66, -2.72, -2.68, -2.65, -2.76, -2.72, -2.68, -2.83, -2.78, -2.74, -2.70, -2.84, -2.80, -2.76, -2.72, -2.68,
                          -2.85, -2.81, -2.77, -2.73, -2.91, -2.87, -2.83, -2.79, -2.75,
                          -3.11, -3.07, -3.03, -2.99, -2.95, -2.91, -2.87, -2.83, -2.80,
                          -3.12, -3.08, -3.04, -3.00, -2.96, -2.92, -2.88, -2.84,
                          -3.13, -3.09, -3.05, -3.01, -2.97, -2.93, -2.89, -2.86,
                          -3.16, -3.12, -3.08, -3.04, -3.00, -2.96, -2.92, -2.89,
                          -3.18, -3.14, -3.10, -3.06, -3.02, -2.98, -2.94,
                          -3.22, -3.18, -3.14, -3.10, -3.06, -3.02, -2.98,
                          -3.24, -3.20, -3.16, -3.12, -3.08, -3.05,
                          -3.24, -3.20, -3.16, -3.12, -3.08, -3.04,
                          -3.20, -3.16, -3.12, -3.08, -3.04, -3.12, -3.08, -3.04, -3.00,
                          -2.98, -2.95, -2.96, -2.93, -2.94, -2.91, -2.92, -2.90, -2.94, -2.87, -2.84, -2.82, -2.86, -2.80,
                          -2.46, -2.42, -2.38, -2.35, -2.44, -2.40, -2.37, -2.34, -2.41,
                          -2.61, -2.58, -2.60, -2.57,
                          -2.82, -2.78, -2.74, -2.70, -2.85, -2.81, -2.77, -2.88, -2.92,
                          -3.05, -3.01, -2.97, -2.93, -2.89, -2.85, -2.81,
                          -3.09, -3.05, -3.01, -2.97, -2.93, -2.89, -2.85, -2.81,
                          -3.10, -3.06, -3.02, -2.98, -2.94, -2.90, -2.86,
                          -3.11, -3.07, -3.03, -2.99, -2.95, -2.91, -2.87,
                          -3.14, -3.10, -3.06, -3.02, -2.98, -2.94, -2.90,
                          -3.20, -3.16, -3.12, -3.08, -3.04, -3.00, -2.96,
                          -3.20, -3.16, -3.12, -3.08, -3.04, -3.00,
                          -3.22, -3.18, -3.14, -3.10, -3.06, -3.02,
                          -3.22, -3.18, -3.14, -3.10, -3.06, -3.02,
                          -3.18, -3.14, -3.10, -3.06, -3.02, -3.10, -3.06, -3.02,
                          -3.00, -2.97, -2.94, -2.93]
walney_closed_more_lat = [54.38, 54.38, 54.36, 54.36, 54.36, 54.34, 54.34, 54.34, 54.32, 54.32, 54.32, 54.32, 54.30, 54.30, 54.30, 54.30, 54.30,
                          54.28, 54.28, 54.28, 54.28, 54.26, 54.26, 54.26, 54.26, 54.26,
                          54.24, 54.24, 54.24, 54.24, 54.24, 54.24, 54.24, 54.24, 54.24,
                          54.22, 54.22, 54.22, 54.22, 54.22, 54.22, 54.22, 54.22,
                          54.20, 54.20, 54.20, 54.20, 54.20, 54.20, 54.20, 54.20,
                          54.18, 54.18, 54.18, 54.18, 54.18, 54.18, 54.18, 54.18,
                          54.16, 54.16, 54.16, 54.16, 54.16, 54.16, 54.16,
                          54.14, 54.14, 54.14, 54.14, 54.14, 54.14, 54.14,
                          54.12, 54.12, 54.12, 54.12, 54.12, 54.12,
                          54.10, 54.10, 54.10, 54.10, 54.10, 54.10,
                          54.08, 54.08, 54.08, 54.08, 54.08, 54.06, 54.06, 54.06, 54.06,
                          53.97, 53.96, 53.94, 53.93, 53.91, 53.93, 53.90, 53.89, 53.88, 53.90, 53.89, 53.90, 53.87, 53.90,
                          53.80, 53.79, 53.80, 53.79, 53.78, 53.78, 53.77, 53.775, 53.81,
                          53.82, 53.81, 53.79, 53.80,
                          54.31, 54.31, 54.31, 54.31, 54.27, 54.27, 54.27, 54.27, 54.27,
                          54.25, 54.25, 54.25, 54.25, 54.25, 54.25, 54.25,
                          54.23, 54.23, 54.23, 54.23, 54.23, 54.23, 54.23, 54.23,
                          54.21, 54.21, 54.21, 54.21, 54.21, 54.21, 54.21,
                          54.19, 54.19, 54.19, 54.19, 54.19, 54.19, 54.19,
                          54.17, 54.17, 54.17, 54.17, 54.17, 54.17, 54.17,
                          54.15, 54.15, 54.15, 54.15, 54.15, 54.15, 54.15,
                          54.13, 54.13, 54.13, 54.13, 54.13, 54.13,
                          54.11, 54.11, 54.11, 54.11, 54.11, 54.11,
                          54.09, 54.09, 54.09, 54.09, 54.09, 54.09,
                          54.07, 54.07, 54.07, 54.07, 54.07, 54.05, 54.05, 54.05,
                          53.98, 53.95, 53.94, 53.96]
walney_closed_line_lon = [-2.89, -2.44, n, -2.85, -2.42, n, -2.90, -2.42, n, -2.88, -2.44, n, -2.85, -2.46, n, -2.84, -2.40, n, -2.82, -2.40, n,
                          -2.80, -2.38, n, -2.86, -2.48, n, -2.83, -2.50, n, -2.87, -2.56, n, -2.81, -2.52, n,
                          -2.41, -2.26, n, -2.36, -2.27, n, -2.32, -2.27, n, -2.39, -2.30, -2.26, n, -2.90, -2.66, n, -2.89, -2.55, n, -2.88, -2.60, n,
                          -3.15, -3.02, n, -3.05, -2.95, n, -3.00, -2.92, n, -3.02, -2.99, n, -3.10, -2.98, n, -3.08, -2.97]
walney_closed_line_lat = [53.94, 53.80, n, 53.93, 53.81, n, 53.92, 53.78, n, 53.90, 53.78, n, 53.88, 53.79, n, 53.92, 53.79, n, 53.92, 53.81, n,
                          53.93, 53.82, n, 53.86, 53.79, n, 53.90, 53.78, n, 53.89, 53.79, n, 53.91, 53.80, n,
                          53.77, 53.58, n, 53.76, 53.59, n, 53.72, 53.60, n, 53.75, 53.65, 53.58, n, 54.03, 53.95, n, 54.02, 53.82, n, 54.00, 53.84, n,
                          54.05, 54.00, n, 54.06, 53.99, n, 54.05, 53.96, n, 54.08, 53.99, n, 54.03, 53.98, n, 54.01, 53.97]

panel_titles = ['Ribble - Landfill Open', 'Ribble - Landfill Closed', 'Walney - Landfill Open', 'Walney - Landfill Closed']
panel_n = ['N = 5', 'N = 13', 'N = 33', 'N = 18']
colony_lon = [-2.926, -2.926, -3.171, -3.171]
colony_lat = [53.711, 53.711, 54.054, 54.054]
colony_col = ['#FF6600', '#FF6600', '#000066', '#000066']
landfill_lon = [-2.632, -2.632, -3.025, -3.025]
landfill_lat = [53.379, 53.379, 53.916, 53.916]
x_ticks = [-4.0, -3.5, -3.0, -2.5, -2.0, -1.5]
y_ticks = [53.5, 54.0, 54.5]
scale_lon = [-4.004, -3.402, -2.805]
scale_lab = ['0', '40', '80km']

W, H = 1418, 1490
gold = '#EEC900'
purple = '#9370DB'
land = '#000033'
sea = '#CCFFFF'

fig = plt.figure(figsize=(W / 100, H / 100), dpi=100)

boxes = [(94, 73), (773, 73), (94, 793), (773, 793)]
tracks = [(ribble_open_lon, ribble_open_lat, gold), (ribble_closed_lon, ribble_closed_lat, purple),
          (walney_open_lon, walney_open_lat, gold), (walney_closed_lon, walney_closed_lat, purple)]
more_pts = [(ribble_open_more_lon, ribble_open_more_lat), (ribble_closed_more_lon, ribble_closed_more_lat),
            (walney_open_more_lon, walney_open_more_lat), (walney_closed_more_lon, walney_closed_more_lat)]
more_lines = [(ribble_open_line_lon, ribble_open_line_lat), (ribble_closed_line_lon, ribble_closed_line_lat),
              (walney_open_line_lon, walney_open_line_lat), (walney_closed_line_lon, walney_closed_line_lat)]

for i in range(4):
    x0, y0 = boxes[i]
    ax = fig.add_axes([x0 / W, 1 - (y0 + 597) / H, 630 / W, 597 / H], facecolor=sea)
    ax.fill(coast_lon, coast_lat, color=land, lw=0)
    ax.fill(anglesey_lon, anglesey_lat, color=land, lw=0)
    ax.fill(walney_lon, walney_lat, color=land, lw=0)
    for rx, ry in [(river1_lon, river1_lat), (river2_lon, river2_lat), (river3_lon, river3_lat), (river4_lon, river4_lat)]:
        ax.plot(rx, ry, color=sea, lw=1)

    lon, lat, col = tracks[i]
    # one path for all lines so the alpha does not build up
    ax.plot(lon + [n] + more_lines[i][0], lat + [n] + more_lines[i][1], color=col, alpha=0.45, lw=2.6, solid_joinstyle='round')
    ax.plot(lon, lat, ls='none', marker='o', ms=8.2, color=col, mec='none', alpha=0.95)
    ax.plot(more_pts[i][0], more_pts[i][1], ls='none', marker='o', ms=8.2, color=col, mec='none', alpha=0.95)

    ax.plot(colony_lon[i], colony_lat[i], marker='D', ms=12.5, color=colony_col[i], mec='none')
    ax.plot(landfill_lon[i], landfill_lat[i], marker=[(-1, -0.85), (1, -0.85), (0, 0.85)], ms=24.5, color='red', mec='none')

    ax.set_xlim(-4.122, -1.373)
    ax.set_ylim(53.031, 54.57)
    ax.set_xticks(x_ticks)
    ax.set_yticks(y_ticks)
    ax.tick_params(length=4, width=1.6, color='#333333', labelsize=22, labelcolor='#222222')
    ax.tick_params(axis='x', pad=9)
    ax.tick_params(axis='y', labelrotation=90, pad=5)
    for lb in ax.get_yticklabels():
        lb.set_va('center')
    if i < 2:
        ax.tick_params(axis='x', bottom=False, labelbottom=False)
    if i % 2 == 1:
        ax.tick_params(axis='y', left=False, labelleft=False)
    for sp in ax.spines.values():
        sp.set_linewidth(0.5)
        sp.set_color('#999999')

    fig.text(x0 / W, 1 - (y0 - 31) / H, panel_titles[i], fontsize=40.2, fontweight='bold', color='black', ha='left', va='baseline')
    right = x0 + 630 - 15 if i != 0 else x0 + 630 - 27
    if i == 2:
        right = x0 + 630 - 16
    fig.text(right / W, 1 - (y0 + 547) / H, panel_n[i], fontsize=29, fontweight='bold', color='white', ha='right', va='baseline')

    if i >= 2:
        fig.text((x0 + 314) / W, 1 - 1479 / H, 'Longitude', fontsize=30, ha='center', va='baseline')
    if i % 2 == 0:
        fig.text(40 / W, 1 - (y0 + 298) / H, 'Latitude', fontsize=30, rotation=90, ha='right', va='center')

    if i == 3:
        ax.add_patch(Rectangle((-4.012, 53.103), 1.222, 0.052, color='black', lw=0))
        ax.add_patch(Rectangle((-3.98, 53.117), 0.565, 0.024, color='white', lw=0))
        ax.add_patch(Rectangle((-3.385, 53.117), 0.565, 0.024, color='red', lw=0))
        for sx, sl in zip(scale_lon, scale_lab):
            ax.text(sx, 53.160, sl, color='white', fontsize=37, ha='center', va='baseline')

fig.savefig('out.png', dpi=100)
